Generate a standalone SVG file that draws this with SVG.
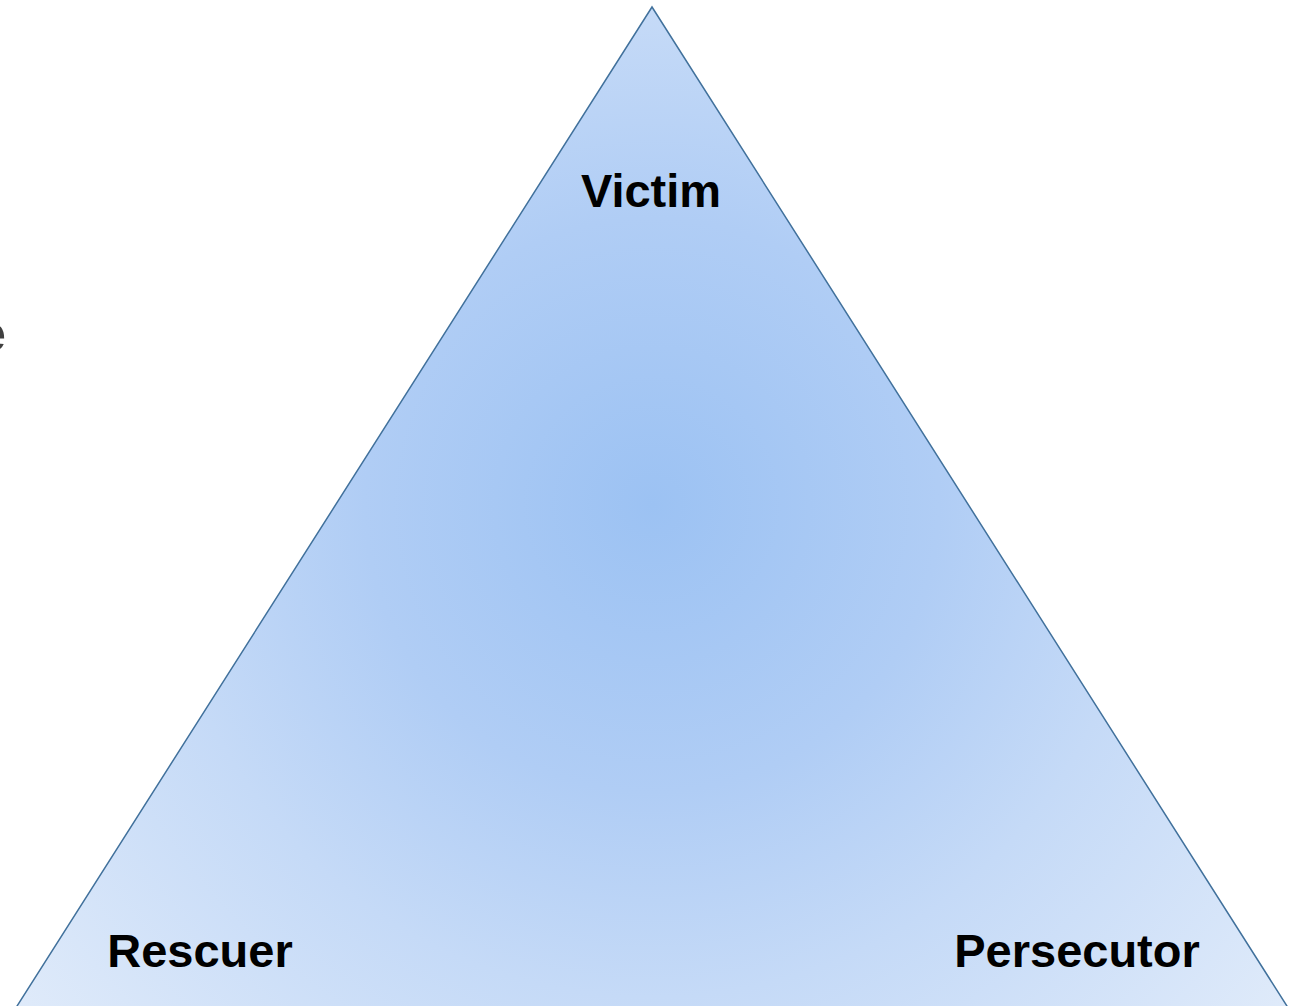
<svg xmlns="http://www.w3.org/2000/svg" width="1301" height="1006" viewBox="0 0 1301 1006">
<defs>
<radialGradient id="g" gradientUnits="userSpaceOnUse" cx="652" cy="505" r="820">
<stop offset="0" stop-color="#9cc2f3"/>
<stop offset="0.35" stop-color="#b0cdf5"/>
<stop offset="0.6" stop-color="#c5daf7"/>
<stop offset="1" stop-color="#e0ebfa"/>
</radialGradient>
<style>
.lbl{font-family:"Liberation Sans",Arial,sans-serif;font-weight:bold;font-size:47px;fill:#000;}
.tri{fill:url(#g);stroke:#41719c;stroke-width:1.5;}
</style>
</defs>
<rect width="1301" height="1006" fill="#fff"/>
<text x="-23" y="351" style="font-family:'Liberation Sans',Arial,sans-serif;font-weight:bold;font-size:52px;fill:#404040">e</text>
<g id="triangle">
<polygon class="tri" points="652,7 -2,1036 1306,1036"/>
</g>
<g id="victim"><text class="lbl" x="651" y="207" text-anchor="middle">Victim</text></g>
<g id="rescuer"><text class="lbl" x="200" y="967" text-anchor="middle">Rescuer</text></g>
<g id="persecutor"><text class="lbl" x="1077" y="967" text-anchor="middle">Persecutor</text></g>
<g id="connectors"></g>
</svg>
